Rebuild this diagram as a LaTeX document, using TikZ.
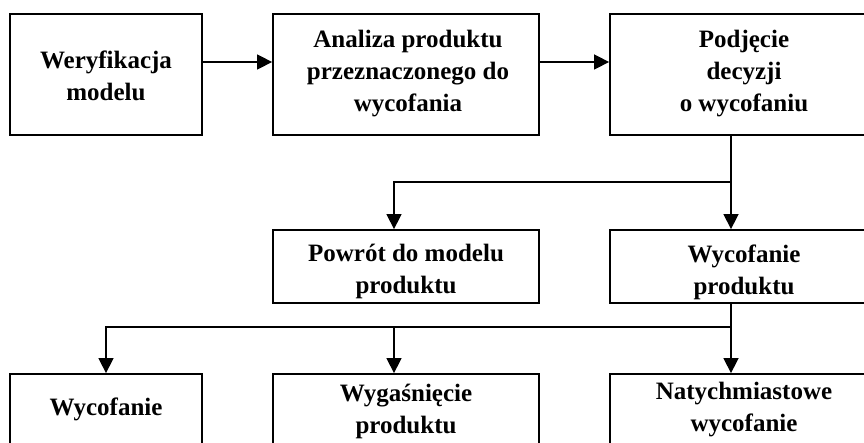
\documentclass[tikz,border=0pt]{standalone}
\usepackage{fontspec}
\setmainfont{Liberation Serif}
\usetikzlibrary{arrows.meta}
\tikzset{
  box/.style={draw, line width=1.8pt, rectangle, inner sep=0pt},
  lbl/.style={align=center, font=\bfseries\fontsize{25}{32}\selectfont, inner sep=0pt},
  arr/.style={line width=1.5pt, -{Triangle[length=15pt,width=15pt]}},
  ln/.style={line width=1.5pt}
}
\begin{document}
\begin{tikzpicture}[x=1pt,y=-1pt]
\useasboundingbox (0,0) rectangle (864,443);
% boxes
\node[box, minimum width=192pt, minimum height=121pt] (b1) at (106,74.5) {};
\node[box, minimum width=266pt, minimum height=121pt] (b2) at (406,74.5) {};
\node[box, minimum width=268pt, minimum height=121pt] (b3) at (744,74.5) {};
\node[box, minimum width=266pt, minimum height=73pt] (b4) at (406,266.5) {};
\node[box, minimum width=268pt, minimum height=73pt] (b5) at (744,266.5) {};
\node[box, minimum width=192pt, minimum height=76pt] (b6) at (106,412) {};
\node[box, minimum width=266pt, minimum height=76pt] (b7) at (406,412) {};
\node[box, minimum width=268pt, minimum height=76pt] (b8) at (744,412) {};
% texts
\node[lbl] (t1) at (106,75.5) {Weryfikacja\\modelu};
\node[lbl] (t2) at (408,74) {Analiza produktu\\przeznaczonego do\\wycofania};
\node[lbl] (t3) at (744,73.5) {Podjęcie\\decyzji\\o wycofaniu};
\node[lbl] (t4) at (406,271.5) {Powrót do modelu\\produktu};
\node[lbl] (t5) at (744,272) {Wycofanie\\produktu};
\node[lbl] (t6) at (106,409) {Wycofanie};
\node[lbl] (t7) at (406,411.5) {Wygaśnięcie\\produktu};
\node[lbl] (t8) at (744,410) {Natychmiastowe\\wycofanie};
% junctions
\coordinate (j1) at (731,182);
\coordinate (j2) at (731,327);
\coordinate (k1) at (394,327);
% connectors
\draw[arr] (b1.east |- 0,62) -- (b2.west |- 0,62);
\draw[arr] (b2.east |- 0,62) -- (b3.west |- 0,62);
\draw[arr] (b3.south -| j1) -- (b5.north -| j1);
\draw[arr] (j1) -| (b4.north -| k1);
\draw[arr] (b5.south -| j2) -- (b8.north -| j2);
\draw[arr] (j2) -| (b6.north);
\draw[arr] (k1) -- (b7.north -| k1);
\end{tikzpicture}
\end{document}
